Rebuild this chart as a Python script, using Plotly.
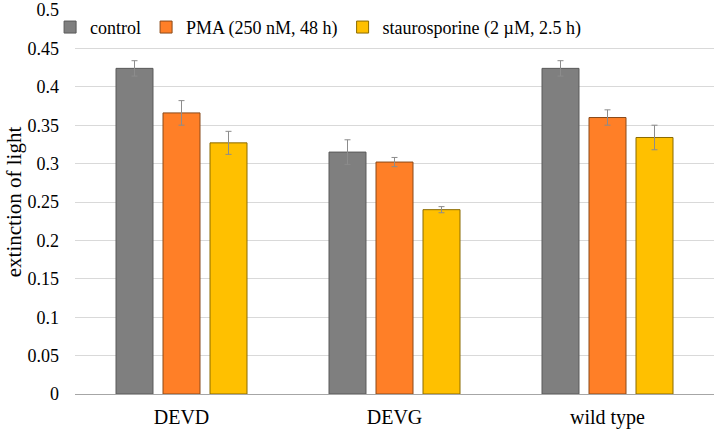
import plotly.graph_objects as go

categories = ["DEVD", "DEVG", "wild type"]
series_names = ["control", "PMA (250 nM, 48 h)", "staurosporine (2 µM, 2.5 h)"]
control = [0.424, 0.315, 0.424]
control_err = [0.010, 0.016, 0.010]
pma = [0.366, 0.302, 0.360]
pma_err = [0.016, 0.006, 0.010]
stauro = [0.327, 0.240, 0.334]
stauro_err = [0.015, 0.004, 0.016]
tick_vals = [0, 0.05, 0.1, 0.15, 0.2, 0.25, 0.3, 0.35, 0.4, 0.45, 0.5]
tick_text = ["0", "0.05", "0.1", "0.15", "0.2", "0.25", "0.3", "0.35", "0.4", "0.45", "0.5"]

colors = ["#7f7f7f", "#ff7f27", "#ffc000"]
lines = ["#5a5a5a", "#8a4a1a", "#8a6a00"]
font = "Liberation Serif"

fig = go.Figure()
for name, vals, errs, c, lc in zip(series_names, [control, pma, stauro],
                                   [control_err, pma_err, stauro_err], colors, lines):
    fig.add_trace(go.Bar(
        x=categories, y=vals, name=name,
        marker=dict(color=c, line=dict(color=lc, width=1)),
        error_y=dict(type="data", array=errs, visible=True, color="#8c8c8c",
                     thickness=1, width=3),
    ))

fig.update_layout(
    width=715, height=433,
    margin=dict(l=75, r=1, t=10, b=39),
    paper_bgcolor="white", plot_bgcolor="white",
    barmode="group", bargap=0.338, bargroupgap=0.213,
    font=dict(family=font, size=18, color="#000000"),
    legend=dict(orientation="h", x=-0.039, y=1.003, xanchor="left", yanchor="top",
                font=dict(family=font, size=18), bgcolor="rgba(255,255,255,0)",
                traceorder="normal"),
    xaxis=dict(showgrid=False, showline=True, linecolor="#a6a6a6", linewidth=1,
               ticks="", ticklabelstandoff=5, tickfont=dict(family=font, size=20)),
    yaxis=dict(range=[0, 0.5], tickvals=tick_vals, ticktext=tick_text,
               showgrid=True, gridcolor="#d9d9d9", gridwidth=1,
               zeroline=False, showline=False, ticks="", ticklabelstandoff=15,
               tickfont=dict(family=font, size=18),
               title=dict(text="extinction of light", font=dict(family=font, size=21), standoff=0)),
)

fig.write_html("out.html", config={"displayModeBar": False},
               post_script="document.body.style.margin='0';document.body.style.overflow='hidden';")
